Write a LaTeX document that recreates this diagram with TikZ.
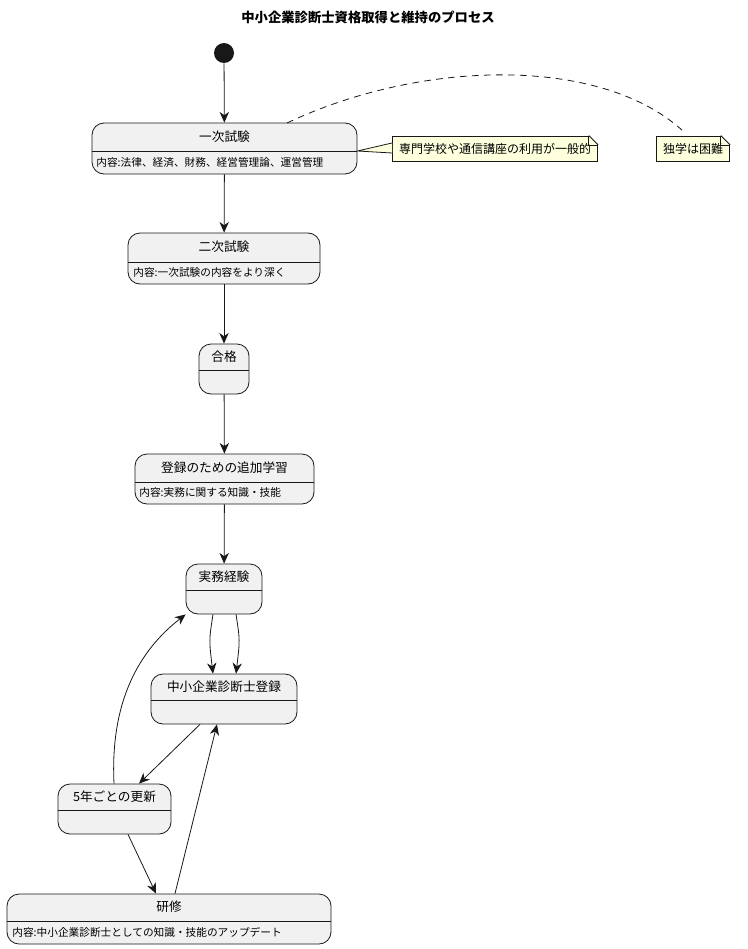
\documentclass[tikz,border=0pt]{standalone}
\usepackage{fontspec}
\setmainfont{Noto Sans CJK JP}
\usetikzlibrary{arrows.meta,positioning}
\definecolor{stfill}{HTML}{F1F1F1}
\definecolor{stline}{HTML}{181818}
\definecolor{notefill}{HTML}{FEFFDD}
\tikzset{
  st/.style 2 args = {draw=stline, fill=stfill, rounded corners=9pt, minimum width=#1*0.75pt, minimum height=#2*0.75pt, inner sep=0pt},
  sttitle/.style   = {font=\fontsize{9.5}{11}\selectfont},
  stbody/.style    = {font=\fontsize{8}{10}\selectfont, anchor=west, inner sep=0pt},
  flow/.style      = {draw=stline, -{Stealth[length=8pt,width=7pt,inset=2.5pt]}},
  note/.style      = {draw=stline, fill=notefill, font=\fontsize{9}{11}\selectfont, minimum height=25*0.75pt, inner xsep=5pt, inner ysep=0pt},
}
\begin{document}
\begin{tikzpicture}[x=0.75pt, y=-0.75pt, line width=0.6pt]
  \useasboundingbox (0,0) rectangle (748,949);
  \node[font=\fontsize{10}{12}\selectfont\bfseries] (title) at (368,17) {中小企業診断士資格取得と維持のプロセス};

  % start
  \node[circle, fill=stline, minimum size=15pt, inner sep=0pt] (start) at (224,53) {};

  % states
  \node[st={265}{51}] (ichiji) at (224.5,148.5) {};
  \draw[stline] (ichiji.west |- 0,151) -- (ichiji.east |- 0,151);
  \node[sttitle] at (224.5,137) {一次試験};
  \node[stbody] at (96,162) {内容:法律、経済、財務、経営管理論、運営管理};

  \node[st={192}{51}] (niji) at (224,258.5) {};
  \draw[stline] (niji.west |- 0,262) -- (niji.east |- 0,262);
  \node[sttitle] at (224,247) {二次試験};
  \node[stbody] at (133,272) {内容:一次試験の内容をより深く};

  \node[st={50}{50}] (goukaku) at (224,369) {};
  \draw[stline] (goukaku.west |- 0,370) -- (goukaku.east |- 0,370);
  \node[sttitle] at (224,357) {合格};

  \node[st={179}{50}] (tsuika) at (224.5,479) {};
  \draw[stline] (tsuika.west |- 0,482) -- (tsuika.east |- 0,482);
  \node[sttitle] at (224.5,468) {登録のための追加学習};
  \node[stbody] at (139,492) {内容:実務に関する知識・技能};

  \node[st={76}{50}] (jitsumu) at (224,589) {};
  \draw[stline] (jitsumu.west |- 0,590) -- (jitsumu.east |- 0,590);
  \node[sttitle] at (224,577) {実務経験};

  \node[st={146}{50}] (touroku) at (224,699) {};
  \draw[stline] (touroku.west |- 0,700) -- (touroku.east |- 0,700);
  \node[sttitle] at (224,687) {中小企業診断士登録};

  \node[st={113}{50}] (koushin) at (114.5,809) {};
  \draw[stline] (koushin.west |- 0,810) -- (koushin.east |- 0,810);
  \node[sttitle] at (114.5,797) {5年ごとの更新};

  \node[st={324}{50}] (kenshu) at (169,919) {};
  \draw[stline] (kenshu.west |- 0,921) -- (kenshu.east |- 0,921);
  \node[sttitle] at (169,907) {研修};
  \node[stbody] at (12,932) {内容:中小企業診断士としての知識・技能のアップデート};

  % notes
  \node[note, anchor=west] (nt1) at (392,148.5) {専門学校や通信講座の利用が一般的};
  \node[note, anchor=west] (nt2) at (656,148.5) {独学は困難};
  \foreach \n in {nt1,nt2} {
    \fill[white] ([xshift=-7pt]\n.north east) -- (\n.north east) -- ([yshift=-7pt]\n.north east) -- cycle;
    \draw[stline] ([xshift=-7pt]\n.north east) -- ([xshift=-7pt,yshift=-7pt]\n.north east) -- ([yshift=-7pt]\n.north east);
    \draw[stline] ([xshift=-7pt]\n.north east) -- ([yshift=-7pt]\n.north east);
  }
  \fill[notefill] (ichiji.east |- 0,151) -- (nt1.west |- 0,143) -- (nt1.west |- 0,153) -- cycle;
  \draw[stline] (nt1.west |- 0,143) -- (ichiji.east |- 0,151) -- (nt1.west |- 0,153);
  \coordinate (nt2top) at (683,131);
  \draw[stline, dashed, dash pattern=on 5pt off 4pt] (287,123) .. controls (420,60) and (600,55) .. (nt2top);

  % transitions
  \draw[flow] (start) -- (ichiji);
  \draw[flow] (ichiji) -- (niji);
  \draw[flow] (niji) -- (goukaku);
  \draw[flow] (goukaku) -- (tsuika);
  \draw[flow] (tsuika) -- (jitsumu);
  \draw[flow] (jitsumu.south -| 213,0) .. controls (209,640) .. (touroku.north -| 213,0);
  \draw[flow] (jitsumu.south -| 236,0) .. controls (240,640) .. (touroku.north -| 236,0);
  \draw[flow] (touroku.south -| 200,0) -- (koushin.north -| 139,0);
  \draw[flow] (koushin.north -| 114,0) .. controls (110,700) and (140,650) .. (jitsumu.south west);
  \draw[flow] (koushin.south -| 128,0) -- (kenshu.north -| 156,0);
  \draw[flow] (kenshu.north -| 175,0) -- (touroku.south -| 217,0);
\end{tikzpicture}
\end{document}
